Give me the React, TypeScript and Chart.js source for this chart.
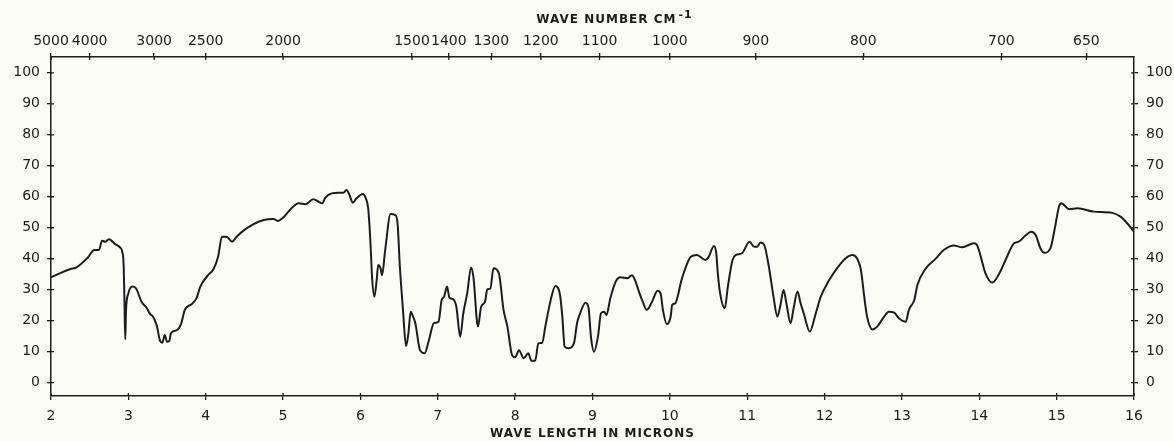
import React, { useEffect, useRef } from "react";
import { Chart, registerables } from "chart.js";

Chart.register(...registerables);

// Wavelength in microns (bottom axis)
const wavelength = [
  2.0, 2.25, 2.33, 2.48, 2.56, 2.62, 2.66, 2.7, 2.75, 2.83, 2.89, 2.92, 2.94, 2.95, 2.96, 2.97, 3.0, 3.05, 3.1,
  3.17, 3.24, 3.28, 3.32, 3.37, 3.41, 3.44, 3.47, 3.5, 3.53, 3.55, 3.63, 3.68, 3.73, 3.82, 3.88, 3.93, 4.03,
  4.1, 4.16, 4.21, 4.27, 4.34, 4.4, 4.5, 4.62, 4.75, 4.88, 4.93, 5.01, 5.11, 5.2, 5.29, 5.39, 5.46, 5.51, 5.54,
  5.63, 5.72, 5.78, 5.82, 5.86, 5.9, 5.95, 6.03, 6.07, 6.1, 6.13, 6.15, 6.18, 6.21, 6.23, 6.26, 6.28, 6.32,
  6.39, 6.45, 6.48, 6.51, 6.55, 6.59, 6.62, 6.65, 6.68, 6.71, 6.77, 6.83, 6.88, 6.95, 7.01, 7.05, 7.08, 7.12,
  7.15, 7.2, 7.24, 7.29, 7.33, 7.38, 7.43, 7.46, 7.52, 7.56, 7.61, 7.64, 7.68, 7.72, 7.79, 7.85, 7.9, 7.96, 8.0,
  8.05, 8.11, 8.17, 8.21, 8.26, 8.3, 8.35, 8.39, 8.46, 8.52, 8.58, 8.61, 8.64, 8.69, 8.76, 8.8, 8.84, 8.91,
  8.95, 8.98, 9.02, 9.07, 9.11, 9.15, 9.18, 9.23, 9.3, 9.36, 9.45, 9.51, 9.55, 9.6, 9.65, 9.7, 9.77, 9.84,
  9.88, 9.91, 9.96, 10.01, 10.03, 10.07, 10.15, 10.2, 10.27, 10.35, 10.46, 10.5, 10.57, 10.6, 10.62, 10.65,
  10.71, 10.75, 10.81, 10.85, 10.93, 11.03, 11.09, 11.13, 11.17, 11.22, 11.28, 11.34, 11.39, 11.43, 11.47,
  11.51, 11.56, 11.6, 11.65, 11.69, 11.73, 11.81, 11.88, 11.95, 12.06, 12.16, 12.27, 12.36, 12.42, 12.47,
  12.51, 12.55, 12.62, 12.68, 12.77, 12.83, 12.9, 12.96, 13.05, 13.09, 13.16, 13.2, 13.31, 13.44, 13.54,
  13.67, 13.78, 13.93, 13.97, 14.02, 14.08, 14.17, 14.26, 14.34, 14.45, 14.51, 14.6, 14.67, 14.73, 14.79,
  14.84, 14.92, 14.98, 15.03, 15.06, 15.16, 15.27, 15.48, 15.72, 15.83, 15.92, 16.0,
];

// Percent transmittance
const transmittance = [
  34.0, 36.7, 37.2, 40.5, 42.8, 42.8, 45.8, 45.5, 46.3, 44.7, 43.7, 42.3, 37.4, 25.6, 14.0, 23.5, 28.8, 31.0, 30.4,
  26.1, 24.0, 22.2, 21.3, 18.1, 13.5, 12.9, 15.4, 13.2, 13.5, 15.9, 17.0, 18.9, 23.5, 25.4, 27.2, 31.0, 34.7,
  36.6, 40.6, 47.1, 47.1, 45.5, 47.1, 49.3, 51.2, 52.5, 52.8, 52.2, 53.5, 56.3, 57.9, 57.6, 59.2, 58.4, 57.9, 59.5,
  61.1, 61.3, 61.3, 62.2, 60.5, 58.1, 59.5, 60.9, 59.5, 56.3, 45.0, 34.2, 27.7, 33.1, 38.0, 36.9, 34.7, 42.8,
  54.4, 54.1, 51.4, 37.4, 23.5, 11.8, 15.9, 22.9, 21.3, 19.2, 10.5, 9.5, 13.2, 19.2, 19.7, 26.7, 27.7, 31.0,
  27.4, 26.9, 24.5, 14.8, 22.4, 28.8, 37.2, 34.2, 18.1, 24.5, 26.1, 30.1, 30.4, 36.9, 35.3, 23.5, 18.1, 8.9, 8.2,
  10.5, 7.9, 9.5, 7.1, 7.1, 12.7, 12.9, 18.1, 26.7, 31.2, 28.3, 21.3, 11.6, 11.1, 12.7, 19.2, 22.4, 25.8,
  24.0, 14.8, 10.0, 14.8, 22.4, 22.9, 21.8, 27.2, 32.6, 34.0, 33.7, 34.7, 33.1, 29.4, 26.1, 23.5, 26.1, 29.7,
  28.8, 23.5, 18.9, 21.3, 25.1, 25.6, 33.1, 36.9, 40.6, 41.2, 39.6, 40.5, 44.1, 41.7, 35.3, 28.8,
  24.0, 31.0, 39.6, 41.2, 41.7, 45.5, 43.9, 43.9, 45.2, 44.4, 37.4, 27.7, 21.3, 25.1, 29.9,
  25.1, 19.2, 24.0, 29.4, 25.6, 22.4, 16.5, 21.8, 27.7, 33.1, 36.9, 40.1, 41.2, 40.1, 36.4,
  28.3, 21.3, 17.2, 18.1, 21.3, 22.9, 22.6, 20.8, 19.7, 23.5, 26.7, 31.5, 36.9, 40.1, 42.8,
  44.3, 43.7, 45.0, 44.4, 40.6, 35.3, 32.3, 35.3, 39.6, 45.0, 45.5, 47.6, 48.7, 47.6, 43.4,
  41.9, 43.4, 50.3, 56.8, 57.9, 56.0, 56.3, 55.2, 54.8, 53.5, 51.2, 48.7,
];

const micronTicks = [2, 3, 4, 5, 6, 7, 8, 9, 10, 11, 12, 13, 14, 15, 16];
const waveNumberTicks = [5000, 4000, 3000, 2500, 2000, 1500, 1400, 1300, 1200, 1100, 1000, 900, 800, 700, 650];
const percentTicks = [0, 10, 20, 30, 40, 50, 60, 70, 80, 90, 100];

const bottomTitle = "WAVE LENGTH IN MICRONS";
const topTitle = "WAVE NUMBER CM";
const topTitleSup = "-1";

const INK = "#1c1c1c";
const PAPER = "#fcfcf6";
const FONT = '"DejaVu Sans", "Liberation Sans", sans-serif';

const decorPlugin = {
  id: "decor",
  afterDraw(chart: any) {
    const ctx = chart.ctx as CanvasRenderingContext2D;
    const { left, right, top, bottom } = chart.chartArea;
    const sx = chart.scales.x;
    const sxt = chart.scales.xTop;
    const sy = chart.scales.y;
    const syr = chart.scales.yRight;
    ctx.save();
    ctx.strokeStyle = INK;
    ctx.lineWidth = 1.3;
    ctx.beginPath();
    sx.ticks.forEach((t: any) => {
      const p = sx.getPixelForValue(t.value);
      ctx.moveTo(p, bottom);
      ctx.lineTo(p, bottom - 3);
    });
    sxt.ticks.forEach((t: any) => {
      const p = sxt.getPixelForValue(t.value);
      ctx.moveTo(p, top);
      ctx.lineTo(p, top + 3);
    });
    sy.ticks.forEach((t: any) => {
      const p = sy.getPixelForValue(t.value);
      ctx.moveTo(left, p);
      ctx.lineTo(left + 3, p);
    });
    syr.ticks.forEach((t: any) => {
      const p = syr.getPixelForValue(t.value);
      ctx.moveTo(right, p);
      ctx.lineTo(right - 3, p);
    });
    ctx.stroke();

    ctx.fillStyle = INK;
    (ctx as any).letterSpacing = "1px";
    ctx.font = `bold 12px ${FONT}`;
    ctx.textAlign = "center";
    ctx.textBaseline = "middle";
    const cx = (left + right) / 2;
    ctx.fillText(bottomTitle, cx, 434);

    ctx.textAlign = "left";
    const mainW = ctx.measureText(topTitle).width;
    ctx.font = `bold 11px ${FONT}`;
    const supW = ctx.measureText(topTitleSup).width;
    const startX = cx + 22 - (mainW + supW + 2) / 2;
    ctx.font = `bold 12px ${FONT}`;
    ctx.fillText(topTitle, startX, 20);
    ctx.font = `bold 11px ${FONT}`;
    ctx.fillText(topTitleSup, startX + mainW + 2, 15);
    ctx.restore();
  },
};

export default function App() {
  const canvasRef = useRef<HTMLCanvasElement | null>(null);

  useEffect(() => {
    document.body.style.margin = "0";
    document.body.style.background = PAPER;
    const canvas = canvasRef.current;
    if (!canvas) return;

    const tickFont = { family: FONT, size: 14 };
    const grid = { drawOnChartArea: false, tickLength: 4, color: INK, lineWidth: 1.3 };
    const border = { color: INK, width: 1.5 };

    const chart = new Chart(canvas, {
      type: "line",
      data: {
        datasets: [
          {
            data: wavelength.map((x, i) => ({ x, y: transmittance[i] })),
            borderColor: INK,
            borderWidth: 2,
            pointRadius: 0,
            fill: false,
            cubicInterpolationMode: "monotone",
          },
        ],
      },
      options: {
        responsive: false,
        animation: false,
        devicePixelRatio: 1,
        layout: { padding: 0 },
        plugins: { legend: { display: false }, tooltip: { enabled: false }, title: { display: false } },
        scales: {
          x: {
            type: "linear",
            position: "bottom",
            min: 2,
            max: 16,
            afterBuildTicks: (s: any) => {
              s.ticks = micronTicks.map((v) => ({ value: v }));
            },
            afterFit: (s: any) => {
              s.height = 45;
            },
            ticks: { autoSkip: false, maxRotation: 0, font: tickFont, color: INK, padding: 8, callback: (v: any) => String(v) },
            grid,
            border,
          },
          xTop: {
            type: "linear",
            position: "top",
            min: 2,
            max: 16,
            afterBuildTicks: (s: any) => {
              s.ticks = waveNumberTicks.map((w) => ({ value: 10000 / w }));
            },
            afterFit: (s: any) => {
              s.height = 57;
            },
            ticks: {
              autoSkip: false,
              maxRotation: 0,
              font: tickFont,
              color: INK,
              padding: 3,
              callback: (_v: any, i: number) => String(waveNumberTicks[i]),
            },
            grid,
            border,
          },
          y: {
            type: "linear",
            position: "left",
            min: -4.3,
            max: 105.1,
            afterBuildTicks: (s: any) => {
              s.ticks = percentTicks.map((v) => ({ value: v }));
            },
            afterFit: (s: any) => {
              s.width = 51;
            },
            ticks: { font: tickFont, color: INK, padding: 7, callback: (v: any) => String(v) },
            grid,
            border,
          },
          yRight: {
            type: "linear",
            position: "right",
            min: -4.3,
            max: 105.1,
            afterBuildTicks: (s: any) => {
              s.ticks = percentTicks.map((v) => ({ value: v }));
            },
            afterFit: (s: any) => {
              s.width = 40;
            },
            ticks: { font: tickFont, color: INK, padding: 8, callback: (v: any) => String(v) },
            grid,
            border,
          },
        },
      } as any,
      plugins: [decorPlugin],
    });

    return () => chart.destroy();
  }, []);

  return (
    <div style={{ position: "absolute", left: 0, top: 0, width: 1174, height: 441, background: PAPER }}>
      <canvas ref={canvasRef} width={1174} height={441} style={{ display: "block" }} />
    </div>
  );
}
